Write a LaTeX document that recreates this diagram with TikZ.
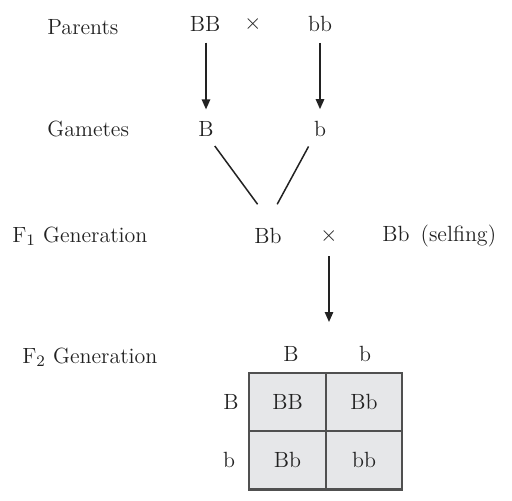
\documentclass[tikz,border=0pt]{standalone}
\usepackage{xcolor}
\usepackage{tikz}
\usetikzlibrary{positioning,arrows.meta}

\definecolor{cellgray}{HTML}{E6E7E9}
\definecolor{gridline}{HTML}{505050}
\definecolor{ink}{HTML}{222222}

\begin{document}
\begin{tikzpicture}[
    x=0.5pt,y=-0.5pt,
    every node/.style={font=\fontsize{11}{13}\selectfont,text=ink},
    lbl/.style={anchor=west,inner xsep=0pt},
    cell/.style={draw=gridline,line width=1pt,fill=cellgray,minimum width=38.25pt,minimum height=29pt,inner sep=0pt},
    arr/.style={-{Triangle[length=5pt,width=4.2pt]},line width=0.75pt,ink},
    ln/.style={line width=0.75pt,ink}
  ]
    \useasboundingbox (0,0) rectangle (512,501);
    % rows of labels
    \node[lbl] (parents) at (47,27) {Parents};
    \node (pBB) at (205,24) {BB};
    \node (px) at (253,24) {$\times$};
    \node (pbb) at (320,24) {bb};
    \node[lbl] (gametes) at (47,129) {Gametes};
    \node (gB) at (206,129) {B};
    \node (gb) at (320,129) {b};
    \node[lbl] (fone) at (12,236) {F$_1$ Generation};
    \node (fa) at (268,236) {Bb};
    \node (fx) at (329,236) {$\times$};
    \node[lbl] (fb) at (382,236) {Bb\enspace(selfing)};
    \node[lbl] (ftwo) at (22,357) {F$_2$ Generation};
    \coordinate (sq) at (329,322);
    % Punnett square
    \node (cB) at (291,354) {B};
    \node (cb) at (365,354) {b};
    \node (rB) at (231,402) {B};
    \node (rb) at (229,460) {b};
    \node[cell] (BB) at (287.5,402) {BB};
    \node[cell] (Bb1) at (364,402) {Bb};
    \node[cell] (Bb2) at (287.5,460) {Bb};
    \node[cell] (bb) at (364,460) {bb};
    \draw[gridline,line width=1.3pt] (Bb2.south west) -- (bb.south east);
    % connectors
    \draw[arr,shorten <=2pt,shorten >=2.5pt] (gB.north |- pBB.south) -- (gB.north);
    \draw[arr,shorten <=2pt,shorten >=2.5pt] (pbb.south) -- (pbb.south |- gb.north);
    \draw[arr,shorten <=3pt] (fx) -- (sq);
    \draw[ln,shorten <=1.5pt,shorten >=10.5pt] ([xshift=3.5pt]gB.south) -- ([xshift=1pt]fa.north);
    \draw[ln,shorten <=1.5pt,shorten >=9.6pt] ([xshift=-5pt]gb.south) -- (fa.north);
  \end{tikzpicture}
\end{document}
